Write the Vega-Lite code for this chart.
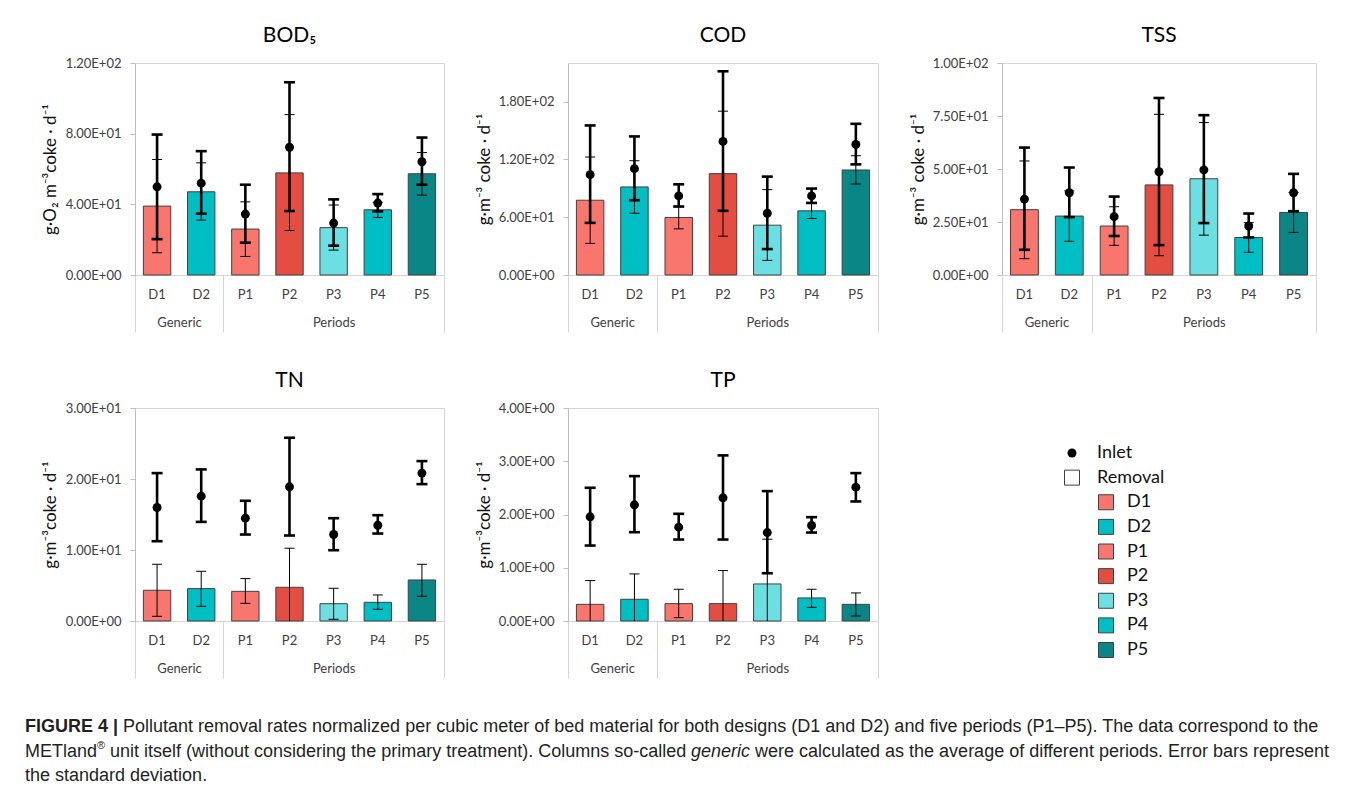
{
  "$schema": "https://vega.github.io/schema/vega-lite/v6.json",
  "padding": {"left": 25, "top": 24, "right": 5, "bottom": 0},
  "background": "white",
  "datasets": {
    "rates": [
      {"p":"BOD","cat":"D1","rem":39.0,"rem_lo":12.6,"rem_hi":65.4,"inl":49.9,"inl_lo":20.3,"inl_hi":79.5},
      {"p":"BOD","cat":"D2","rem":47.1,"rem_lo":31.1,"rem_hi":63.5,"inl":52.0,"inl_lo":34.7,"inl_hi":70.1},
      {"p":"BOD","cat":"P1","rem":26.0,"rem_lo":10.5,"rem_hi":41.4,"inl":34.5,"inl_lo":18.3,"inl_hi":51.1},
      {"p":"BOD","cat":"P2","rem":57.8,"rem_lo":25.2,"rem_hi":90.8,"inl":72.3,"inl_lo":36.2,"inl_hi":109.1},
      {"p":"BOD","cat":"P3","rem":26.8,"rem_lo":14.1,"rem_hi":39.6,"inl":29.4,"inl_lo":16.6,"inl_hi":42.8},
      {"p":"BOD","cat":"P4","rem":36.9,"rem_lo":32.6,"rem_hi":41.2,"inl":40.7,"inl_lo":36.0,"inl_hi":45.8},
      {"p":"BOD","cat":"P5","rem":57.3,"rem_lo":45.2,"rem_hi":69.3,"inl":64.1,"inl_lo":51.1,"inl_hi":77.8},
      {"p":"COD","cat":"D1","rem":77.6,"rem_lo":32.8,"rem_hi":122.4,"inl":104.1,"inl_lo":54.1,"inl_hi":155.2},
      {"p":"COD","cat":"D2","rem":91.4,"rem_lo":64.1,"rem_hi":118.6,"inl":110.3,"inl_lo":77.6,"inl_hi":143.8},
      {"p":"COD","cat":"P1","rem":59.7,"rem_lo":47.9,"rem_hi":71.5,"inl":82.1,"inl_lo":71.0,"inl_hi":94.1},
      {"p":"COD","cat":"P2","rem":105.2,"rem_lo":40.3,"rem_hi":170.0,"inl":138.6,"inl_lo":66.6,"inl_hi":211.4},
      {"p":"COD","cat":"P3","rem":51.7,"rem_lo":15.2,"rem_hi":88.6,"inl":64.1,"inl_lo":26.9,"inl_hi":102.1},
      {"p":"COD","cat":"P4","rem":66.6,"rem_lo":58.6,"rem_hi":74.6,"inl":82.1,"inl_lo":74.8,"inl_hi":89.7},
      {"p":"COD","cat":"P5","rem":109.0,"rem_lo":94.5,"rem_hi":123.8,"inl":135.5,"inl_lo":114.8,"inl_hi":156.9},
      {"p":"TSS","cat":"D1","rem":30.8,"rem_lo":7.7,"rem_hi":53.8,"inl":35.8,"inl_lo":11.9,"inl_hi":60.1},
      {"p":"TSS","cat":"D2","rem":27.8,"rem_lo":15.9,"rem_hi":39.7,"inl":38.8,"inl_lo":27.3,"inl_hi":50.7},
      {"p":"TSS","cat":"P1","rem":23.1,"rem_lo":14.0,"rem_hi":32.2,"inl":27.5,"inl_lo":18.4,"inl_hi":37.0},
      {"p":"TSS","cat":"P2","rem":42.5,"rem_lo":9.1,"rem_hi":75.8,"inl":48.7,"inl_lo":14.1,"inl_hi":83.5},
      {"p":"TSS","cat":"P3","rem":45.4,"rem_lo":18.8,"rem_hi":71.9,"inl":49.6,"inl_lo":24.5,"inl_hi":75.4},
      {"p":"TSS","cat":"P4","rem":17.7,"rem_lo":10.7,"rem_hi":24.7,"inl":23.1,"inl_lo":17.7,"inl_hi":29.0},
      {"p":"TSS","cat":"P5","rem":29.5,"rem_lo":20.1,"rem_hi":38.9,"inl":38.8,"inl_lo":30.1,"inl_hi":47.7},
      {"p":"TN","cat":"D1","rem":4.33,"rem_lo":0.66,"rem_hi":7.99,"inl":15.99,"inl_lo":11.24,"inl_hi":20.83},
      {"p":"TN","cat":"D2","rem":4.56,"rem_lo":2.07,"rem_hi":7.0,"inl":17.58,"inl_lo":13.96,"inl_hi":21.35},
      {"p":"TN","cat":"P1","rem":4.18,"rem_lo":2.49,"rem_hi":5.97,"inl":14.48,"inl_lo":12.18,"inl_hi":16.93},
      {"p":"TN","cat":"P2","rem":4.75,"rem_lo":-0.75,"rem_hi":10.25,"inl":18.9,"inl_lo":12.04,"inl_hi":25.81},
      {"p":"TN","cat":"P3","rem":2.44,"rem_lo":0.24,"rem_hi":4.61,"inl":12.18,"inl_lo":9.97,"inl_hi":14.48},
      {"p":"TN","cat":"P4","rem":2.63,"rem_lo":1.65,"rem_hi":3.67,"inl":13.49,"inl_lo":12.32,"inl_hi":14.9},
      {"p":"TN","cat":"P5","rem":5.78,"rem_lo":3.48,"rem_hi":7.99,"inl":20.83,"inl_lo":19.28,"inl_hi":22.52},
      {"p":"TP","cat":"D1","rem":0.313,"rem_lo":-0.133,"rem_hi":0.759,"inl":1.956,"inl_lo":1.417,"inl_hi":2.502},
      {"p":"TP","cat":"D2","rem":0.408,"rem_lo":-0.068,"rem_hi":0.884,"inl":2.182,"inl_lo":1.668,"inl_hi":2.721},
      {"p":"TP","cat":"P1","rem":0.326,"rem_lo":0.063,"rem_hi":0.596,"inl":1.762,"inl_lo":1.53,"inl_hi":2.013},
      {"p":"TP","cat":"P2","rem":0.326,"rem_lo":-0.295,"rem_hi":0.947,"inl":2.313,"inl_lo":1.53,"inl_hi":3.11},
      {"p":"TP","cat":"P3","rem":0.696,"rem_lo":-0.144,"rem_hi":1.536,"inl":1.661,"inl_lo":0.897,"inl_hi":2.439},
      {"p":"TP","cat":"P4","rem":0.433,"rem_lo":0.257,"rem_hi":0.596,"inl":1.793,"inl_lo":1.661,"inl_hi":1.95},
      {"p":"TP","cat":"P5","rem":0.313,"rem_lo":0.094,"rem_hi":0.527,"inl":2.514,"inl_lo":2.245,"inl_hi":2.777}
    ],
    "legend": [
      {"entry":"Inlet","lvl":"a"},
      {"entry":"Removal","lvl":"a"},
      {"entry":"D1","lvl":"b"},
      {"entry":"D2","lvl":"b"},
      {"entry":"P1","lvl":"b"},
      {"entry":"P2","lvl":"b"},
      {"entry":"P3","lvl":"b"},
      {"entry":"P4","lvl":"b"},
      {"entry":"P5","lvl":"b"}
    ],
    "caption": [
      {"line":1,"seg":"b","text":"FIGURE 4 |"},
      {"line":1,"seg":"n1","text":"Pollutant removal rates normalized per cubic meter of bed material for both designs (D1 and D2) and five periods (P1–P5). The data correspond to the"},
      {"line":2,"seg":"n0","text":"METland"},
      {"line":2,"seg":"sup","text":"®"},
      {"line":2,"seg":"n0b","text":"unit itself (without considering the primary treatment). Columns so-called"},
      {"line":2,"seg":"i","text":"generic"},
      {"line":2,"seg":"n2","text":"were calculated as the average of different periods. Error bars represent"},
      {"line":3,"seg":"n0","text":"the standard deviation."}
    ]
  },
  "columns": 3,
  "align": "each",
  "bounds": "flush",
  "spacing": {"row": 133, "column": 124},
  "concat": [
    {
      "title": {"text": "BOD₅", "offset": 11},
      "width": 309, "height": 212,
      "data": {"name": "rates"},
      "transform": [{"filter": "datum.p === 'BOD'"}],
      "resolve": {"axis": {"x": "independent"}},
      "layer": [
        {"mark": {"type": "bar", "width": {"band": 0.62}, "stroke": "#404040", "strokeWidth": 1},
         "encoding": {
           "x": {"field": "cat", "type": "nominal", "scale": {"type": "band", "domain": ["D1","D2","P1","P2","P3","P4","P5"], "paddingInner": 0, "paddingOuter": 0},
                 "axis": {"orient": "bottom", "title": null, "ticks": false, "tickSize": 0, "domain": false, "labelPadding": 19, "labelBaseline": "middle", "labelAngle": 0, "labelFontSize": 13, "labelOverlap": false}},
           "y": {"field": "rem", "type": "quantitative", "scale": {"domain": [0, 120], "nice": false},
                 "axis": {"title": "g·O₂ m⁻³coke · d⁻¹", "values": [0, 40, 80, 120], "titleX": -85, "titleY": 106}},
           "color": {"field": "cat", "type": "nominal", "scale": {"domain": ["D1","D2","P1","P2","P3","P4","P5"], "range": ["#F8766D","#00BFC4","#F8766D","#E34D42","#6CDFE2","#00BFC4","#0B8686"]}, "legend": null}
         }},
        {"mark": {"type": "rule", "color": "black", "strokeWidth": 1, "clip": true},
         "encoding": {"x": {"field": "cat", "type": "nominal", "scale": {"type": "band", "domain": ["D1","D2","P1","P2","P3","P4","P5"], "paddingInner": 0, "paddingOuter": 0}, "axis": null},
                      "y": {"field": "rem_lo", "type": "quantitative", "scale": {"domain": [0, 120], "nice": false}}, "y2": {"field": "rem_hi"}}},
        {"mark": {"type": "tick", "color": "black", "thickness": 1, "size": 10, "opacity": 1, "clip": true},
         "encoding": {"x": {"field": "cat", "type": "nominal", "scale": {"type": "band", "domain": ["D1","D2","P1","P2","P3","P4","P5"], "paddingInner": 0, "paddingOuter": 0}, "axis": null},
                      "y": {"field": "rem_hi", "type": "quantitative", "scale": {"domain": [0, 120], "nice": false}}}},
        {"mark": {"type": "tick", "color": "black", "thickness": 1, "size": 10, "opacity": 1, "clip": true},
         "encoding": {"x": {"field": "cat", "type": "nominal", "scale": {"type": "band", "domain": ["D1","D2","P1","P2","P3","P4","P5"], "paddingInner": 0, "paddingOuter": 0}, "axis": null},
                      "y": {"field": "rem_lo", "type": "quantitative", "scale": {"domain": [0, 120], "nice": false}}}},
        {"mark": {"type": "rule", "color": "black", "strokeWidth": 2.6},
         "encoding": {"x": {"field": "cat", "type": "nominal", "scale": {"type": "band", "domain": ["D1","D2","P1","P2","P3","P4","P5"], "paddingInner": 0, "paddingOuter": 0}, "axis": null},
                      "y": {"field": "inl_lo", "type": "quantitative", "scale": {"domain": [0, 120], "nice": false}}, "y2": {"field": "inl_hi"}}},
        {"mark": {"type": "tick", "color": "black", "thickness": 2.6, "size": 11, "opacity": 1},
         "encoding": {"x": {"field": "cat", "type": "nominal", "scale": {"type": "band", "domain": ["D1","D2","P1","P2","P3","P4","P5"], "paddingInner": 0, "paddingOuter": 0}, "axis": null},
                      "y": {"field": "inl_hi", "type": "quantitative", "scale": {"domain": [0, 120], "nice": false}}}},
        {"mark": {"type": "tick", "color": "black", "thickness": 2.6, "size": 11, "opacity": 1},
         "encoding": {"x": {"field": "cat", "type": "nominal", "scale": {"type": "band", "domain": ["D1","D2","P1","P2","P3","P4","P5"], "paddingInner": 0, "paddingOuter": 0}, "axis": null},
                      "y": {"field": "inl_lo", "type": "quantitative", "scale": {"domain": [0, 120], "nice": false}}}},
        {"mark": {"type": "point", "filled": true, "color": "black", "size": 80, "opacity": 1},
         "encoding": {"x": {"field": "cat", "type": "nominal", "scale": {"type": "band", "domain": ["D1","D2","P1","P2","P3","P4","P5"], "paddingInner": 0, "paddingOuter": 0},
                            "axis": {"orient": "bottom", "title": null, "domain": false, "ticks": true, "tickBand": "extent", "tickSize": 57, "tickColor": "#D6D6D6", "tickWidth": 1,
                                     "tickOpacity": {"condition": {"test": "datum.value === 'D2' || datum.value === 'P5' || datum.value == null", "value": 1}, "value": 0},
                                     "labelExpr": "datum.value === 'D1' ? 'Generic' : datum.value === 'P3' ? 'Periods' : ''",
                                     "labelOffset": {"condition": {"test": "datum.value === 'D1'", "value": 22}, "value": 0},
                                     "labelPadding": -10, "labelBaseline": "middle", "labelAngle": 0, "labelFontSize": 13, "labelOverlap": false}},
                      "y": {"field": "inl", "type": "quantitative", "scale": {"domain": [0, 120], "nice": false}}}}
      ]
    },
    {
      "title": {"text": "COD", "offset": 17},
      "width": 310, "height": 212,
      "data": {"name": "rates"},
      "transform": [{"filter": "datum.p === 'COD'"}],
      "resolve": {"axis": {"x": "independent"}},
      "layer": [
        {"mark": {"type": "bar", "width": {"band": 0.62}, "stroke": "#404040", "strokeWidth": 1},
         "encoding": {
           "x": {"field": "cat", "type": "nominal", "scale": {"type": "band", "domain": ["D1","D2","P1","P2","P3","P4","P5"], "paddingInner": 0, "paddingOuter": 0},
                 "axis": {"orient": "bottom", "title": null, "ticks": false, "tickSize": 0, "domain": false, "labelPadding": 19, "labelBaseline": "middle", "labelAngle": 0, "labelFontSize": 13, "labelOverlap": false}},
           "y": {"field": "rem", "type": "quantitative", "scale": {"domain": [0, 220], "nice": false},
                 "axis": {"title": "g·m⁻³ coke · d⁻¹", "values": [0, 60, 120, 180], "titleX": -84, "titleY": 106}},
           "color": {"field": "cat", "type": "nominal", "scale": {"domain": ["D1","D2","P1","P2","P3","P4","P5"], "range": ["#F8766D","#00BFC4","#F8766D","#E34D42","#6CDFE2","#00BFC4","#0B8686"]}, "legend": null}
         }},
        {"mark": {"type": "rule", "color": "black", "strokeWidth": 1, "clip": true},
         "encoding": {"x": {"field": "cat", "type": "nominal", "scale": {"type": "band", "domain": ["D1","D2","P1","P2","P3","P4","P5"], "paddingInner": 0, "paddingOuter": 0}, "axis": null},
                      "y": {"field": "rem_lo", "type": "quantitative", "scale": {"domain": [0, 220], "nice": false}}, "y2": {"field": "rem_hi"}}},
        {"mark": {"type": "tick", "color": "black", "thickness": 1, "size": 10, "opacity": 1, "clip": true},
         "encoding": {"x": {"field": "cat", "type": "nominal", "scale": {"type": "band", "domain": ["D1","D2","P1","P2","P3","P4","P5"], "paddingInner": 0, "paddingOuter": 0}, "axis": null},
                      "y": {"field": "rem_hi", "type": "quantitative", "scale": {"domain": [0, 220], "nice": false}}}},
        {"mark": {"type": "tick", "color": "black", "thickness": 1, "size": 10, "opacity": 1, "clip": true},
         "encoding": {"x": {"field": "cat", "type": "nominal", "scale": {"type": "band", "domain": ["D1","D2","P1","P2","P3","P4","P5"], "paddingInner": 0, "paddingOuter": 0}, "axis": null},
                      "y": {"field": "rem_lo", "type": "quantitative", "scale": {"domain": [0, 220], "nice": false}}}},
        {"mark": {"type": "rule", "color": "black", "strokeWidth": 2.6},
         "encoding": {"x": {"field": "cat", "type": "nominal", "scale": {"type": "band", "domain": ["D1","D2","P1","P2","P3","P4","P5"], "paddingInner": 0, "paddingOuter": 0}, "axis": null},
                      "y": {"field": "inl_lo", "type": "quantitative", "scale": {"domain": [0, 220], "nice": false}}, "y2": {"field": "inl_hi"}}},
        {"mark": {"type": "tick", "color": "black", "thickness": 2.6, "size": 11, "opacity": 1},
         "encoding": {"x": {"field": "cat", "type": "nominal", "scale": {"type": "band", "domain": ["D1","D2","P1","P2","P3","P4","P5"], "paddingInner": 0, "paddingOuter": 0}, "axis": null},
                      "y": {"field": "inl_hi", "type": "quantitative", "scale": {"domain": [0, 220], "nice": false}}}},
        {"mark": {"type": "tick", "color": "black", "thickness": 2.6, "size": 11, "opacity": 1},
         "encoding": {"x": {"field": "cat", "type": "nominal", "scale": {"type": "band", "domain": ["D1","D2","P1","P2","P3","P4","P5"], "paddingInner": 0, "paddingOuter": 0}, "axis": null},
                      "y": {"field": "inl_lo", "type": "quantitative", "scale": {"domain": [0, 220], "nice": false}}}},
        {"mark": {"type": "point", "filled": true, "color": "black", "size": 80, "opacity": 1},
         "encoding": {"x": {"field": "cat", "type": "nominal", "scale": {"type": "band", "domain": ["D1","D2","P1","P2","P3","P4","P5"], "paddingInner": 0, "paddingOuter": 0},
                            "axis": {"orient": "bottom", "title": null, "domain": false, "ticks": true, "tickBand": "extent", "tickSize": 57, "tickColor": "#D6D6D6", "tickWidth": 1,
                                     "tickOpacity": {"condition": {"test": "datum.value === 'D2' || datum.value === 'P5' || datum.value == null", "value": 1}, "value": 0},
                                     "labelExpr": "datum.value === 'D1' ? 'Generic' : datum.value === 'P3' ? 'Periods' : ''",
                                     "labelOffset": {"condition": {"test": "datum.value === 'D1'", "value": 22}, "value": 0},
                                     "labelPadding": -10, "labelBaseline": "middle", "labelAngle": 0, "labelFontSize": 13, "labelOverlap": false}},
                      "y": {"field": "inl", "type": "quantitative", "scale": {"domain": [0, 220], "nice": false}}}}
      ]
    },
    {
      "title": {"text": "TSS", "offset": 11},
      "width": 314, "height": 212,
      "data": {"name": "rates"},
      "transform": [{"filter": "datum.p === 'TSS'"}],
      "resolve": {"axis": {"x": "independent"}},
      "layer": [
        {"mark": {"type": "bar", "width": {"band": 0.62}, "stroke": "#404040", "strokeWidth": 1},
         "encoding": {
           "x": {"field": "cat", "type": "nominal", "scale": {"type": "band", "domain": ["D1","D2","P1","P2","P3","P4","P5"], "paddingInner": 0, "paddingOuter": 0},
                 "axis": {"orient": "bottom", "title": null, "ticks": false, "tickSize": 0, "domain": false, "labelPadding": 19, "labelBaseline": "middle", "labelAngle": 0, "labelFontSize": 13, "labelOverlap": false}},
           "y": {"field": "rem", "type": "quantitative", "scale": {"domain": [0, 100], "nice": false},
                 "axis": {"title": "g·m⁻³ coke · d⁻¹", "values": [0, 25, 50, 75, 100], "titleX": -84, "titleY": 106}},
           "color": {"field": "cat", "type": "nominal", "scale": {"domain": ["D1","D2","P1","P2","P3","P4","P5"], "range": ["#F8766D","#00BFC4","#F8766D","#E34D42","#6CDFE2","#00BFC4","#0B8686"]}, "legend": null}
         }},
        {"mark": {"type": "rule", "color": "black", "strokeWidth": 1, "clip": true},
         "encoding": {"x": {"field": "cat", "type": "nominal", "scale": {"type": "band", "domain": ["D1","D2","P1","P2","P3","P4","P5"], "paddingInner": 0, "paddingOuter": 0}, "axis": null},
                      "y": {"field": "rem_lo", "type": "quantitative", "scale": {"domain": [0, 100], "nice": false}}, "y2": {"field": "rem_hi"}}},
        {"mark": {"type": "tick", "color": "black", "thickness": 1, "size": 10, "opacity": 1, "clip": true},
         "encoding": {"x": {"field": "cat", "type": "nominal", "scale": {"type": "band", "domain": ["D1","D2","P1","P2","P3","P4","P5"], "paddingInner": 0, "paddingOuter": 0}, "axis": null},
                      "y": {"field": "rem_hi", "type": "quantitative", "scale": {"domain": [0, 100], "nice": false}}}},
        {"mark": {"type": "tick", "color": "black", "thickness": 1, "size": 10, "opacity": 1, "clip": true},
         "encoding": {"x": {"field": "cat", "type": "nominal", "scale": {"type": "band", "domain": ["D1","D2","P1","P2","P3","P4","P5"], "paddingInner": 0, "paddingOuter": 0}, "axis": null},
                      "y": {"field": "rem_lo", "type": "quantitative", "scale": {"domain": [0, 100], "nice": false}}}},
        {"mark": {"type": "rule", "color": "black", "strokeWidth": 2.6},
         "encoding": {"x": {"field": "cat", "type": "nominal", "scale": {"type": "band", "domain": ["D1","D2","P1","P2","P3","P4","P5"], "paddingInner": 0, "paddingOuter": 0}, "axis": null},
                      "y": {"field": "inl_lo", "type": "quantitative", "scale": {"domain": [0, 100], "nice": false}}, "y2": {"field": "inl_hi"}}},
        {"mark": {"type": "tick", "color": "black", "thickness": 2.6, "size": 11, "opacity": 1},
         "encoding": {"x": {"field": "cat", "type": "nominal", "scale": {"type": "band", "domain": ["D1","D2","P1","P2","P3","P4","P5"], "paddingInner": 0, "paddingOuter": 0}, "axis": null},
                      "y": {"field": "inl_hi", "type": "quantitative", "scale": {"domain": [0, 100], "nice": false}}}},
        {"mark": {"type": "tick", "color": "black", "thickness": 2.6, "size": 11, "opacity": 1},
         "encoding": {"x": {"field": "cat", "type": "nominal", "scale": {"type": "band", "domain": ["D1","D2","P1","P2","P3","P4","P5"], "paddingInner": 0, "paddingOuter": 0}, "axis": null},
                      "y": {"field": "inl_lo", "type": "quantitative", "scale": {"domain": [0, 100], "nice": false}}}},
        {"mark": {"type": "point", "filled": true, "color": "black", "size": 80, "opacity": 1},
         "encoding": {"x": {"field": "cat", "type": "nominal", "scale": {"type": "band", "domain": ["D1","D2","P1","P2","P3","P4","P5"], "paddingInner": 0, "paddingOuter": 0},
                            "axis": {"orient": "bottom", "title": null, "domain": false, "ticks": true, "tickBand": "extent", "tickSize": 57, "tickColor": "#D6D6D6", "tickWidth": 1,
                                     "tickOpacity": {"condition": {"test": "datum.value === 'D2' || datum.value === 'P5' || datum.value == null", "value": 1}, "value": 0},
                                     "labelExpr": "datum.value === 'D1' ? 'Generic' : datum.value === 'P3' ? 'Periods' : ''",
                                     "labelOffset": {"condition": {"test": "datum.value === 'D1'", "value": 22}, "value": 0},
                                     "labelPadding": -10, "labelBaseline": "middle", "labelAngle": 0, "labelFontSize": 13, "labelOverlap": false}},
                      "y": {"field": "inl", "type": "quantitative", "scale": {"domain": [0, 100], "nice": false}}}}
      ]
    },
    {
      "title": {"text": "TN", "offset": 11},
      "width": 309, "height": 213,
      "data": {"name": "rates"},
      "transform": [{"filter": "datum.p === 'TN'"}],
      "resolve": {"axis": {"x": "independent"}},
      "layer": [
        {"mark": {"type": "bar", "width": {"band": 0.62}, "stroke": "#404040", "strokeWidth": 1},
         "encoding": {
           "x": {"field": "cat", "type": "nominal", "scale": {"type": "band", "domain": ["D1","D2","P1","P2","P3","P4","P5"], "paddingInner": 0, "paddingOuter": 0},
                 "axis": {"orient": "bottom", "title": null, "ticks": false, "tickSize": 0, "domain": false, "labelPadding": 19, "labelBaseline": "middle", "labelAngle": 0, "labelFontSize": 13, "labelOverlap": false}},
           "y": {"field": "rem", "type": "quantitative", "scale": {"domain": [0, 30], "nice": false},
                 "axis": {"title": "g·m⁻³coke · d⁻¹", "values": [0, 10, 20, 30], "titleX": -85, "titleY": 106.5}},
           "color": {"field": "cat", "type": "nominal", "scale": {"domain": ["D1","D2","P1","P2","P3","P4","P5"], "range": ["#F8766D","#00BFC4","#F8766D","#E34D42","#6CDFE2","#00BFC4","#0B8686"]}, "legend": null}
         }},
        {"mark": {"type": "rule", "color": "black", "strokeWidth": 1, "clip": true},
         "encoding": {"x": {"field": "cat", "type": "nominal", "scale": {"type": "band", "domain": ["D1","D2","P1","P2","P3","P4","P5"], "paddingInner": 0, "paddingOuter": 0}, "axis": null},
                      "y": {"field": "rem_lo", "type": "quantitative", "scale": {"domain": [0, 30], "nice": false}}, "y2": {"field": "rem_hi"}}},
        {"mark": {"type": "tick", "color": "black", "thickness": 1, "size": 10, "opacity": 1, "clip": true},
         "encoding": {"x": {"field": "cat", "type": "nominal", "scale": {"type": "band", "domain": ["D1","D2","P1","P2","P3","P4","P5"], "paddingInner": 0, "paddingOuter": 0}, "axis": null},
                      "y": {"field": "rem_hi", "type": "quantitative", "scale": {"domain": [0, 30], "nice": false}}}},
        {"mark": {"type": "tick", "color": "black", "thickness": 1, "size": 10, "opacity": 1, "clip": true},
         "encoding": {"x": {"field": "cat", "type": "nominal", "scale": {"type": "band", "domain": ["D1","D2","P1","P2","P3","P4","P5"], "paddingInner": 0, "paddingOuter": 0}, "axis": null},
                      "y": {"field": "rem_lo", "type": "quantitative", "scale": {"domain": [0, 30], "nice": false}}}},
        {"mark": {"type": "rule", "color": "black", "strokeWidth": 2.6},
         "encoding": {"x": {"field": "cat", "type": "nominal", "scale": {"type": "band", "domain": ["D1","D2","P1","P2","P3","P4","P5"], "paddingInner": 0, "paddingOuter": 0}, "axis": null},
                      "y": {"field": "inl_lo", "type": "quantitative", "scale": {"domain": [0, 30], "nice": false}}, "y2": {"field": "inl_hi"}}},
        {"mark": {"type": "tick", "color": "black", "thickness": 2.6, "size": 11, "opacity": 1},
         "encoding": {"x": {"field": "cat", "type": "nominal", "scale": {"type": "band", "domain": ["D1","D2","P1","P2","P3","P4","P5"], "paddingInner": 0, "paddingOuter": 0}, "axis": null},
                      "y": {"field": "inl_hi", "type": "quantitative", "scale": {"domain": [0, 30], "nice": false}}}},
        {"mark": {"type": "tick", "color": "black", "thickness": 2.6, "size": 11, "opacity": 1},
         "encoding": {"x": {"field": "cat", "type": "nominal", "scale": {"type": "band", "domain": ["D1","D2","P1","P2","P3","P4","P5"], "paddingInner": 0, "paddingOuter": 0}, "axis": null},
                      "y": {"field": "inl_lo", "type": "quantitative", "scale": {"domain": [0, 30], "nice": false}}}},
        {"mark": {"type": "point", "filled": true, "color": "black", "size": 80, "opacity": 1},
         "encoding": {"x": {"field": "cat", "type": "nominal", "scale": {"type": "band", "domain": ["D1","D2","P1","P2","P3","P4","P5"], "paddingInner": 0, "paddingOuter": 0},
                            "axis": {"orient": "bottom", "title": null, "domain": false, "ticks": true, "tickBand": "extent", "tickSize": 57, "tickColor": "#D6D6D6", "tickWidth": 1,
                                     "tickOpacity": {"condition": {"test": "datum.value === 'D2' || datum.value === 'P5' || datum.value == null", "value": 1}, "value": 0},
                                     "labelExpr": "datum.value === 'D1' ? 'Generic' : datum.value === 'P3' ? 'Periods' : ''",
                                     "labelOffset": {"condition": {"test": "datum.value === 'D1'", "value": 22}, "value": 0},
                                     "labelPadding": -10, "labelBaseline": "middle", "labelAngle": 0, "labelFontSize": 13, "labelOverlap": false}},
                      "y": {"field": "inl", "type": "quantitative", "scale": {"domain": [0, 30], "nice": false}}}}
      ]
    },
    {
      "title": {"text": "TP", "offset": 11},
      "width": 310, "height": 213,
      "data": {"name": "rates"},
      "transform": [{"filter": "datum.p === 'TP'"}],
      "resolve": {"axis": {"x": "independent"}},
      "layer": [
        {"mark": {"type": "bar", "width": {"band": 0.62}, "stroke": "#404040", "strokeWidth": 1},
         "encoding": {
           "x": {"field": "cat", "type": "nominal", "scale": {"type": "band", "domain": ["D1","D2","P1","P2","P3","P4","P5"], "paddingInner": 0, "paddingOuter": 0},
                 "axis": {"orient": "bottom", "title": null, "ticks": false, "tickSize": 0, "domain": false, "labelPadding": 19, "labelBaseline": "middle", "labelAngle": 0, "labelFontSize": 13, "labelOverlap": false}},
           "y": {"field": "rem", "type": "quantitative", "scale": {"domain": [0, 4], "nice": false},
                 "axis": {"title": "g·m⁻³coke · d⁻¹", "values": [0, 1, 2, 3, 4], "titleX": -84, "titleY": 106.5}},
           "color": {"field": "cat", "type": "nominal", "scale": {"domain": ["D1","D2","P1","P2","P3","P4","P5"], "range": ["#F8766D","#00BFC4","#F8766D","#E34D42","#6CDFE2","#00BFC4","#0B8686"]}, "legend": null}
         }},
        {"mark": {"type": "rule", "color": "black", "strokeWidth": 1, "clip": true},
         "encoding": {"x": {"field": "cat", "type": "nominal", "scale": {"type": "band", "domain": ["D1","D2","P1","P2","P3","P4","P5"], "paddingInner": 0, "paddingOuter": 0}, "axis": null},
                      "y": {"field": "rem_lo", "type": "quantitative", "scale": {"domain": [0, 4], "nice": false}}, "y2": {"field": "rem_hi"}}},
        {"mark": {"type": "tick", "color": "black", "thickness": 1, "size": 10, "opacity": 1, "clip": true},
         "encoding": {"x": {"field": "cat", "type": "nominal", "scale": {"type": "band", "domain": ["D1","D2","P1","P2","P3","P4","P5"], "paddingInner": 0, "paddingOuter": 0}, "axis": null},
                      "y": {"field": "rem_hi", "type": "quantitative", "scale": {"domain": [0, 4], "nice": false}}}},
        {"mark": {"type": "tick", "color": "black", "thickness": 1, "size": 10, "opacity": 1, "clip": true},
         "encoding": {"x": {"field": "cat", "type": "nominal", "scale": {"type": "band", "domain": ["D1","D2","P1","P2","P3","P4","P5"], "paddingInner": 0, "paddingOuter": 0}, "axis": null},
                      "y": {"field": "rem_lo", "type": "quantitative", "scale": {"domain": [0, 4], "nice": false}}}},
        {"mark": {"type": "rule", "color": "black", "strokeWidth": 2.6},
         "encoding": {"x": {"field": "cat", "type": "nominal", "scale": {"type": "band", "domain": ["D1","D2","P1","P2","P3","P4","P5"], "paddingInner": 0, "paddingOuter": 0}, "axis": null},
                      "y": {"field": "inl_lo", "type": "quantitative", "scale": {"domain": [0, 4], "nice": false}}, "y2": {"field": "inl_hi"}}},
        {"mark": {"type": "tick", "color": "black", "thickness": 2.6, "size": 11, "opacity": 1},
         "encoding": {"x": {"field": "cat", "type": "nominal", "scale": {"type": "band", "domain": ["D1","D2","P1","P2","P3","P4","P5"], "paddingInner": 0, "paddingOuter": 0}, "axis": null},
                      "y": {"field": "inl_hi", "type": "quantitative", "scale": {"domain": [0, 4], "nice": false}}}},
        {"mark": {"type": "tick", "color": "black", "thickness": 2.6, "size": 11, "opacity": 1},
         "encoding": {"x": {"field": "cat", "type": "nominal", "scale": {"type": "band", "domain": ["D1","D2","P1","P2","P3","P4","P5"], "paddingInner": 0, "paddingOuter": 0}, "axis": null},
                      "y": {"field": "inl_lo", "type": "quantitative", "scale": {"domain": [0, 4], "nice": false}}}},
        {"mark": {"type": "point", "filled": true, "color": "black", "size": 80, "opacity": 1},
         "encoding": {"x": {"field": "cat", "type": "nominal", "scale": {"type": "band", "domain": ["D1","D2","P1","P2","P3","P4","P5"], "paddingInner": 0, "paddingOuter": 0},
                            "axis": {"orient": "bottom", "title": null, "domain": false, "ticks": true, "tickBand": "extent", "tickSize": 57, "tickColor": "#D6D6D6", "tickWidth": 1,
                                     "tickOpacity": {"condition": {"test": "datum.value === 'D2' || datum.value === 'P5' || datum.value == null", "value": 1}, "value": 0},
                                     "labelExpr": "datum.value === 'D1' ? 'Generic' : datum.value === 'P3' ? 'Periods' : ''",
                                     "labelOffset": {"condition": {"test": "datum.value === 'D1'", "value": 22}, "value": 0},
                                     "labelPadding": -10, "labelBaseline": "middle", "labelAngle": 0, "labelFontSize": 13, "labelOverlap": false}},
                      "y": {"field": "inl", "type": "quantitative", "scale": {"domain": [0, 4], "nice": false}}}}
      ]
    },
    {
      "width": 174, "height": 213,
      "view": {"stroke": null},
      "data": {"name": "legend"},
      "encoding": {
        "x": {"field": "lvl", "type": "nominal", "scale": {"type": "point", "domain": ["a","b"], "range": [70, 104], "padding": 0}, "axis": null},
        "y": {"field": "entry", "type": "nominal", "scale": {"type": "point", "domain": ["Inlet","Removal","D1","D2","P1","P2","P3","P4","P5"], "range": [45, 242], "padding": 0}, "axis": null}
      },
      "layer": [
        {"transform": [{"filter": "datum.entry === 'Inlet'"}],
         "mark": {"type": "point", "shape": "circle", "filled": true, "color": "black", "size": 80, "opacity": 1}},
        {"transform": [{"filter": "datum.entry === 'Removal'"}],
         "mark": {"type": "point", "shape": "square", "filled": true, "fill": "white", "stroke": "#404040", "strokeWidth": 1, "size": 225, "opacity": 1}},
        {"transform": [{"filter": "datum.lvl === 'b'"}],
         "mark": {"type": "point", "shape": "square", "filled": true, "stroke": "#404040", "strokeWidth": 1, "size": 225, "opacity": 1},
         "encoding": {"color": {"field": "entry", "type": "nominal", "scale": {"domain": ["D1","D2","P1","P2","P3","P4","P5"], "range": ["#F8766D","#00BFC4","#F8766D","#E34D42","#6CDFE2","#00BFC4","#0B8686"]}, "legend": null}}},
        {"transform": [{"filter": "datum.lvl === 'a'"}],
         "mark": {"type": "text", "align": "left", "baseline": "middle", "dx": 25, "font": "Lato", "fontSize": 18, "color": "#111111"},
         "encoding": {"text": {"field": "entry"}}},
        {"transform": [{"filter": "datum.lvl === 'b'"}],
         "mark": {"type": "text", "align": "left", "baseline": "middle", "dx": 21, "font": "Lato", "fontSize": 18, "color": "#111111"},
         "encoding": {"text": {"field": "entry"}}}
      ]
    },
    {
      "width": 309, "height": 20,
      "view": {"stroke": null},
      "data": {"name": "caption"},
      "encoding": {
        "x": {"value": 0},
        "y": {"field": "line", "type": "ordinal", "scale": {"type": "point", "domain": [1, 2, 3], "range": [-27, 22], "padding": 0}, "axis": null},
        "text": {"field": "text"}
      },
      "layer": [
        {"transform": [{"filter": "datum.seg === 'b'"}],
         "mark": {"type": "text", "align": "left", "baseline": "middle", "dx": -110, "font": "Liberation Sans", "fontSize": 18, "fontWeight": "bold", "color": "#231F20"}},
        {"transform": [{"filter": "datum.seg === 'n1'"}],
         "mark": {"type": "text", "align": "left", "baseline": "middle", "dx": -12, "font": "Liberation Sans", "fontSize": 18, "color": "#231F20"}},
        {"transform": [{"filter": "datum.seg === 'n0'"}],
         "mark": {"type": "text", "align": "left", "baseline": "middle", "dx": -110, "font": "Liberation Sans", "fontSize": 18, "color": "#231F20"}},
        {"transform": [{"filter": "datum.seg === 'sup'"}],
         "mark": {"type": "text", "align": "left", "baseline": "middle", "dx": -38, "dy": -6, "font": "Liberation Sans", "fontSize": 11, "color": "#231F20"}},
        {"transform": [{"filter": "datum.seg === 'n0b'"}],
         "mark": {"type": "text", "align": "left", "baseline": "middle", "dx": -25, "font": "Liberation Sans", "fontSize": 18, "color": "#231F20"}},
        {"transform": [{"filter": "datum.seg === 'i'"}],
         "mark": {"type": "text", "align": "left", "baseline": "middle", "dx": 556, "font": "Liberation Sans", "fontSize": 18, "fontStyle": "italic", "color": "#231F20"}},
        {"transform": [{"filter": "datum.seg === 'n2'"}],
         "mark": {"type": "text", "align": "left", "baseline": "middle", "dx": 620, "font": "Liberation Sans", "fontSize": 18, "color": "#231F20"}}
      ]
    }
  ],
  "config": {
    "font": "Lato",
    "view": {"stroke": "#D6D6D6", "strokeWidth": 1},
    "axis": {"labelFont": "Lato", "titleFont": "Lato", "grid": false, "domainColor": "#BFBFBF", "tickColor": "#BFBFBF", "labelColor": "#404040", "titleColor": "#111111", "titleFontWeight": "normal"},
    "axisY": {"labelExpr": "replace(replace(format(datum.value, '.2e'), 'e+', 'E+0'), 'e-', 'E-0')", "labelFontSize": 13, "labelPadding": 9, "tickSize": 5, "titleFontSize": 17, "titleAngle": 270, "titleAlign": "center", "titleBaseline": "middle"},
    "title": {"font": "Lato", "fontSize": 21, "fontWeight": "normal", "color": "#000000", "frame": "group", "anchor": "middle", "baseline": "alphabetic", "offset": 17}
  }
}
